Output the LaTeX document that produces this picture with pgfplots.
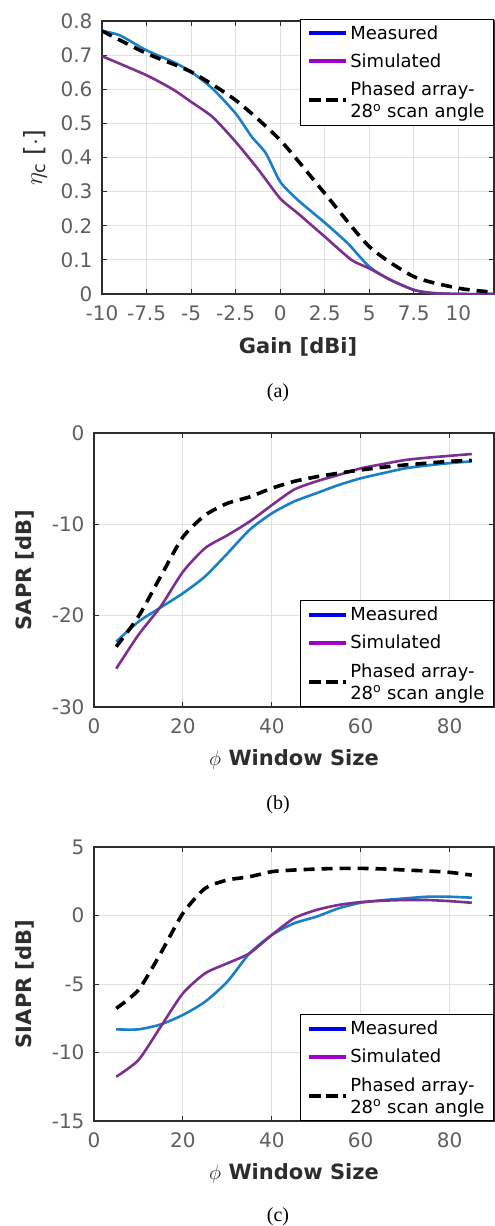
\documentclass[border=0pt]{standalone}
\usepackage{pgfplots}
\pgfplotsset{compat=1.18}
\usepackage{fontspec}
\setmainfont{DejaVu Sans}
\newfontfamily\tms{Liberation Serif}
\definecolor{mblue}{RGB}{25,128,200}
\definecolor{mpurp}{RGB}{126,47,142}
\definecolor{lblue}{RGB}{0,0,235}
\definecolor{lpurp}{RGB}{160,0,200}
\definecolor{tickgray}{RGB}{95,95,95}
\definecolor{labgray}{RGB}{45,45,45}

\pgfplotsset{
 myax/.style={
  scale only axis, anchor=north west,
  axis line style={draw=labgray, line width=1.2pt},
  grid=major, grid style={draw=black!12, line width=0.8pt},
  tick style={draw=labgray, line width=0.8pt},
  major tick length=5pt,
  tick align=inside,
  ticklabel style={font=\fontsize{20}{22}\selectfont, text=tickgray},
  xticklabel style={yshift=-8pt},
  yticklabel style={xshift=-6pt},
  every axis x label/.style={at={(rel axis cs:0.5,0)}, anchor=center, yshift=-53pt,
     font=\bfseries\fontsize{21}{24}\selectfont, text=labgray},
  every axis y label/.style={at={(rel axis cs:0,0.5)}, anchor=center, xshift=-69pt, rotate=90,
     font=\bfseries\fontsize{21}{24}\selectfont, text=labgray},
  legend style={draw=black, line width=1pt, font=\fontsize{18}{22}\selectfont,
     nodes={align=left, inner sep=2pt}, row sep=9pt, inner xsep=7pt, inner ysep=4pt},
  legend cell align=left,
  legend image code/.code={\draw[##1] (0pt,0pt) -- (29pt,0pt); \path (0pt,0pt) -- (37pt,0pt);},
 },
 meas/.style={mblue, line width=2.6pt, forget plot, smooth, tension=0.4},
 simu/.style={mpurp, line width=2.6pt, forget plot, smooth, tension=0.4},
 phas/.style={black, line width=3.6pt, dash pattern=on 11pt off 7pt, forget plot, smooth, tension=0.4},
}
\newcommand{\mylegend}{%
  \addlegendimage{lblue, line width=4pt}
  \addlegendentry{Measured}
  \addlegendimage{lpurp, line width=4pt}
  \addlegendentry{Simulated}
  \addlegendimage{black, line width=4pt, dash pattern=on 12pt off 5pt}
  \addlegendentry{Phased array-\\28\textsuperscript{o} scan angle}
}

\begin{document}
\begin{tikzpicture}
\path[use as bounding box] (0pt,0pt) rectangle (495pt,-1226pt);

% (a)
\begin{axis}[myax, at={(102pt,-21pt)}, width=392pt, height=273pt,
  xmin=-10, xmax=12, ymin=0, ymax=0.8,
  xtick={-10,-7.5,-5,-2.5,0,2.5,5,7.5,10},
  xticklabels={-10,-7.5,-5,-2.5,0,2.5,5,7.5,10},
  ytick={0,0.1,0.2,0.3,0.4,0.5,0.6,0.7,0.8},
  yticklabels={0,0.1,0.2,0.3,0.4,0.5,0.6,0.7,0.8},
  xlabel={Gain [dBi]}, ylabel={$\eta_{\mathrm{c}}$ [$\cdot$]},
  every axis y label/.style={at={(rel axis cs:0,0.5)}, anchor=center, xshift=-67pt, rotate=90,
     font=\fontsize{25}{28}\selectfont, text=labgray},
  legend style={at={(rel axis cs:1,1)}, anchor=north east, yshift=2pt},
]
\addplot[meas] coordinates {(-10,0.771)(-9,0.758)(-7.5,0.714)(-6,0.680)(-5,0.651)(-3.8,0.602)(-2.5,0.529)(-1.6,0.461)(-0.8,0.412)(0,0.329)(1,0.275)(2.5,0.209)(3.8,0.148)(5,0.080)(6.2,0.041)(7.5,0.012)(8.5,0.003)(10,0)(12,0)};
\addplot[simu] coordinates {(-10,0.697)(-7.5,0.641)(-6,0.599)(-5,0.563)(-3.8,0.519)(-2.5,0.446)(-1.2,0.363)(0,0.280)(1,0.236)(2.5,0.168)(4,0.100)(5,0.075)(6.2,0.041)(7.5,0.012)(8.5,0.003)(10,0)(12,0)};
\addplot[phas] coordinates {(-10,0.771)(-7.5,0.705)(-5,0.651)(-2.5,0.568)(0,0.451)(2.5,0.295)(5,0.139)(7.5,0.051)(10,0.017)(12,0.005)};
\mylegend
\end{axis}
\node[font=\tms\fontsize{20}{22}\selectfont] at (278pt,-393pt) {(a)};

% (b)
\begin{axis}[myax, at={(94pt,-433pt)}, width=400pt, height=274pt,
  xmin=0, xmax=90, ymin=-30, ymax=0,
  xtick={0,20,40,60,80}, xticklabels={0,20,40,60,80},
  ytick={-30,-20,-10,0}, yticklabels={-30,-20,-10,0},
  xlabel={$\phi$ Window Size}, ylabel={SAPR [dB]},
  legend style={at={(rel axis cs:1,0)}, anchor=south east},
]
\addplot[meas] coordinates {(5,-22.85)(10,-20.66)(15,-19.1)(20,-17.55)(25,-15.7)(30,-13.2)(35,-10.6)(40,-8.8)(45,-7.5)(50,-6.6)(55,-5.7)(60,-4.96)(65,-4.4)(70,-3.87)(75,-3.55)(80,-3.3)(85,-3.1)};
\addplot[simu] coordinates {(5,-25.8)(10,-22.1)(15,-19.0)(20,-15.2)(25,-12.6)(30,-11.2)(35,-9.7)(40,-7.9)(45,-6.2)(50,-5.3)(55,-4.6)(60,-3.87)(65,-3.4)(70,-2.96)(75,-2.7)(80,-2.5)(85,-2.3)};
\addplot[phas] coordinates {(5,-23.4)(10,-20.1)(15,-15.7)(20,-11.4)(25,-9.0)(30,-7.7)(35,-7.0)(40,-6.05)(45,-5.3)(50,-4.8)(55,-4.4)(60,-4.05)(65,-3.75)(70,-3.5)(75,-3.3)(80,-3.1)(85,-3.0)};
\mylegend
\end{axis}
\node[font=\tms\fontsize{20}{22}\selectfont] at (278pt,-805pt) {(b)};

% (c)
\begin{axis}[myax, at={(94pt,-847pt)}, width=400pt, height=274pt,
  xmin=0, xmax=90, ymin=-15, ymax=5,
  xtick={0,20,40,60,80}, xticklabels={0,20,40,60,80},
  ytick={-15,-10,-5,0,5}, yticklabels={-15,-10,-5,0,5},
  xlabel={$\phi$ Window Size}, ylabel={SIAPR [dB]},
  legend style={at={(rel axis cs:1,0)}, anchor=south east},
]
\addplot[meas] coordinates {(5,-8.31)(10,-8.31)(15,-7.95)(20,-7.26)(25,-6.29)(30,-4.83)(35,-2.76)(40,-1.42)(45,-0.57)(50,-0.09)(55,0.52)(60,0.93)(65,1.12)(70,1.25)(75,1.37)(80,1.37)(85,1.3)};
\addplot[simu] coordinates {(5,-11.77)(10,-10.55)(15,-8.12)(20,-5.68)(25,-4.22)(30,-3.49)(35,-2.76)(40,-1.42)(45,-0.20)(50,0.40)(55,0.77)(60,0.98)(65,1.08)(70,1.13)(75,1.13)(80,1.05)(85,0.93)};
\addplot[phas] coordinates {(5,-6.78)(10,-5.44)(15,-2.76)(20,0.16)(25,1.98)(30,2.59)(35,2.83)(40,3.20)(45,3.32)(50,3.39)(55,3.44)(60,3.44)(65,3.4)(70,3.32)(75,3.25)(80,3.15)(85,2.95)};
\mylegend
\end{axis}
\node[font=\tms\fontsize{20}{22}\selectfont] at (278pt,-1217pt) {(c)};
\end{tikzpicture}
\end{document}
